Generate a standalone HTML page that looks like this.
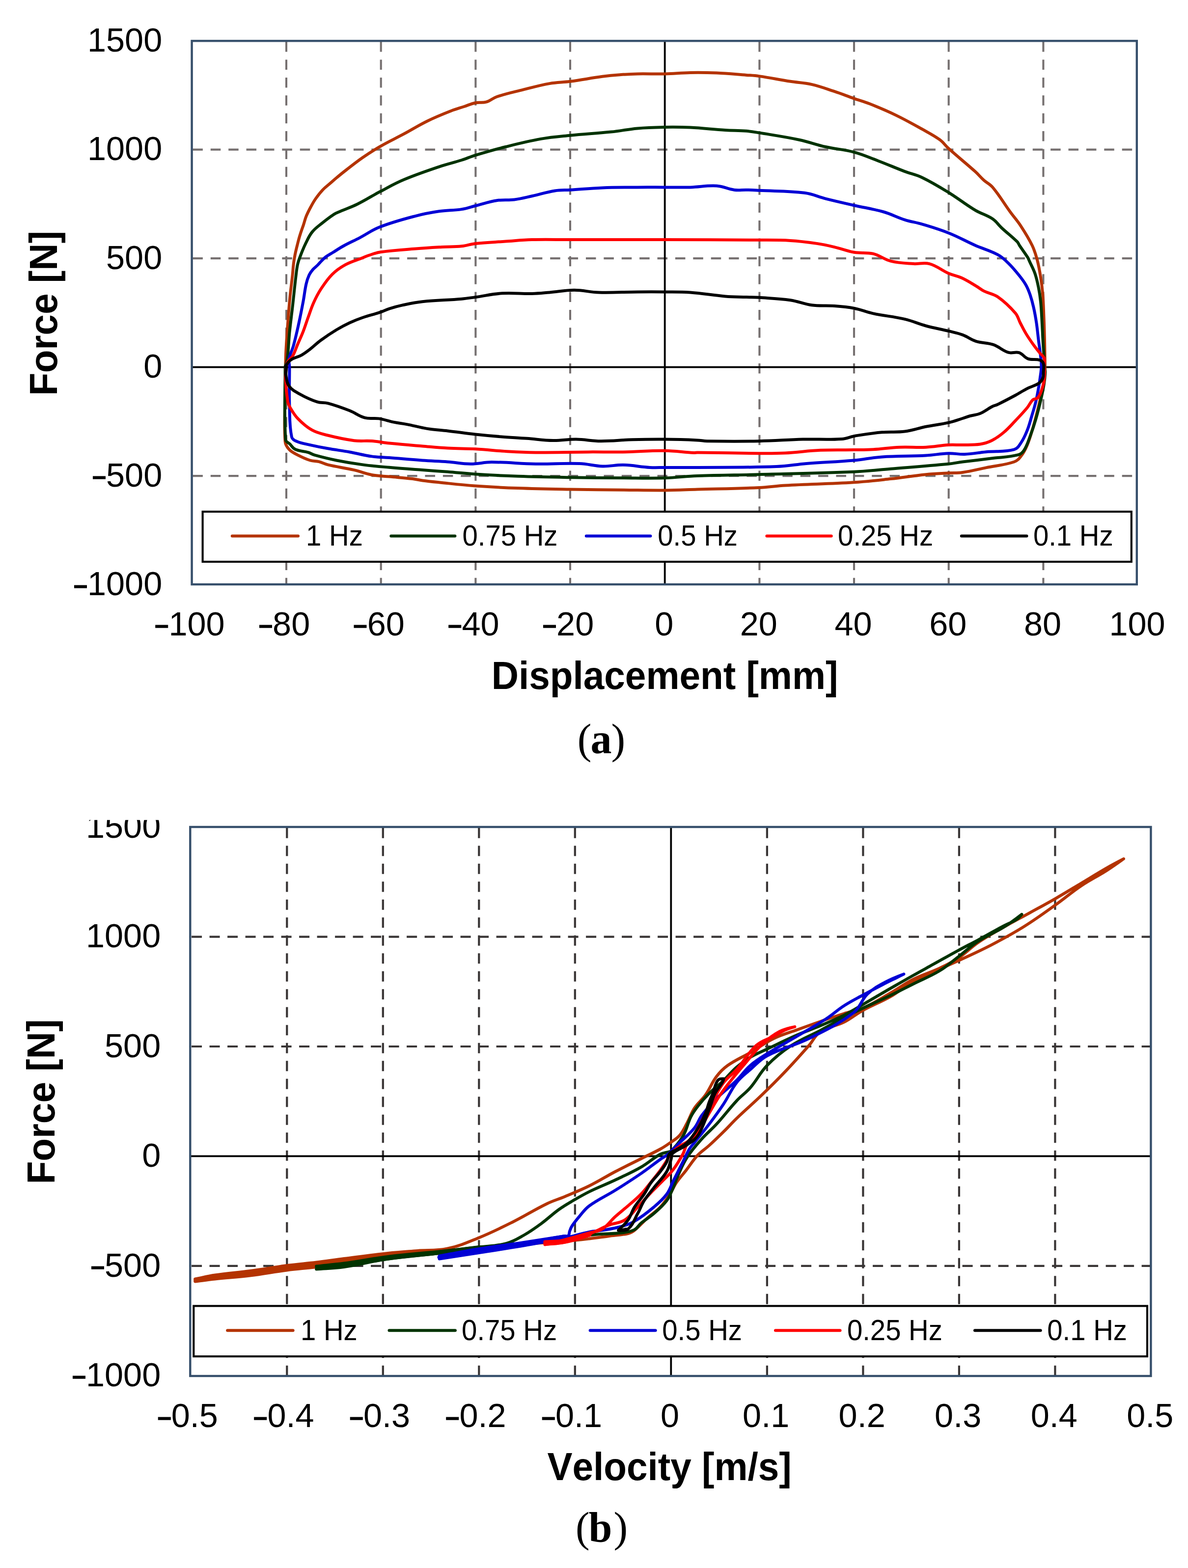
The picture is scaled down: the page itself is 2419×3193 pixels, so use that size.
<!DOCTYPE html>
<html><head><meta charset="utf-8"><title>Force charts</title>
<style>
html,body{margin:0;padding:0;background:#fff;}
body{width:2419px;height:3193px;overflow:hidden;position:relative;}
svg{position:absolute;left:0;top:0;display:block;}
text{font-kerning:none;font-feature-settings:"kern" 0;}
.t{font-family:"Liberation Sans",Arial,sans-serif;font-size:68.4px;fill:#000;}
.m{stroke:#000;stroke-width:1.6px;}
.lg{font-family:"Liberation Sans",Arial,sans-serif;font-size:56.3px;fill:#000;}
.ti{font-family:"Liberation Sans",Arial,sans-serif;font-size:76.5px;font-weight:bold;fill:#000;}
.cap{font-family:"Liberation Serif","Times New Roman",serif;font-size:86px;fill:#000;}
</style></head>
<body>
<svg width="2419" height="3193" viewBox="0 0 2419 3193">
<rect x="0" y="0" width="2419" height="3193" fill="#fff"/>
<line x1="583.0" y1="85.1" x2="583.0" y2="1190.0" stroke="#767070" stroke-width="4.1" stroke-dasharray="20.5 15.89"/>
<line x1="775.7" y1="85.1" x2="775.7" y2="1190.0" stroke="#767070" stroke-width="4.1" stroke-dasharray="20.5 15.89"/>
<line x1="968.4" y1="85.1" x2="968.4" y2="1190.0" stroke="#767070" stroke-width="4.1" stroke-dasharray="20.5 15.89"/>
<line x1="1161.0" y1="85.1" x2="1161.0" y2="1190.0" stroke="#767070" stroke-width="4.1" stroke-dasharray="20.5 15.89"/>
<line x1="1546.4" y1="85.1" x2="1546.4" y2="1190.0" stroke="#767070" stroke-width="4.1" stroke-dasharray="20.5 15.89"/>
<line x1="1739.0" y1="85.1" x2="1739.0" y2="1190.0" stroke="#767070" stroke-width="4.1" stroke-dasharray="20.5 15.89"/>
<line x1="1931.7" y1="85.1" x2="1931.7" y2="1190.0" stroke="#767070" stroke-width="4.1" stroke-dasharray="20.5 15.89"/>
<line x1="2124.4" y1="85.1" x2="2124.4" y2="1190.0" stroke="#767070" stroke-width="4.1" stroke-dasharray="20.5 15.89"/>
<line x1="392.4" y1="304.6" x2="2314.8" y2="304.6" stroke="#767070" stroke-width="4.1" stroke-dasharray="20.5 15.89"/>
<line x1="392.4" y1="526.1" x2="2314.8" y2="526.1" stroke="#767070" stroke-width="4.1" stroke-dasharray="20.5 15.89"/>
<line x1="392.4" y1="969.1" x2="2314.8" y2="969.1" stroke="#767070" stroke-width="4.1" stroke-dasharray="20.5 15.89"/>
<line x1="1353.7" y1="83.3" x2="1353.7" y2="1190.0" stroke="#000" stroke-width="3.8"/>
<line x1="390.6" y1="747.6" x2="2314.8" y2="747.6" stroke="#000" stroke-width="3.8"/>
<path d="M581.5,747.0C581.5,744.1 581.4,742.3 581.5,739.5C581.8,729.3 581.8,722.9 582.4,712.7C583.5,692.3 584.5,679.4 586.0,659.0C587.5,638.6 588.4,625.7 590.4,605.3C592.1,588.1 593.8,577.2 595.6,560.0C596.5,551.7 596.6,546.4 597.6,538.1C598.5,530.6 599.3,525.8 600.8,518.4C602.3,510.9 603.5,506.2 605.4,498.7C607.3,491.2 608.4,486.5 610.7,479.1C613.2,471.0 615.2,466.0 617.9,458.0C620.1,451.3 620.9,446.8 623.6,440.2C626.7,432.7 629.1,428.2 633.0,421.0C636.5,414.5 638.7,410.4 642.9,404.4C647.9,397.3 651.3,392.8 657.3,386.5C662.4,381.1 666.4,378.5 672.0,373.6C677.3,369.0 680.5,366.0 685.9,361.5C692.9,355.7 697.3,352.0 704.5,346.5C717.5,336.5 725.5,329.8 739.0,320.5C752.2,311.3 760.8,305.8 774.8,297.8C792.6,287.6 804.5,282.4 822.5,272.7C840.7,262.9 851.7,255.6 870.3,246.5C888.0,237.8 899.7,233.2 918.0,226.0C928.1,222.0 934.7,220.4 945.0,217.0C953.7,214.1 958.9,211.3 967.9,209.5C976.2,207.8 982.0,210.0 990.1,207.7C998.9,205.2 1002.9,199.9 1011.6,197.0C1031.6,190.3 1044.8,187.8 1065.3,182.7C1085.6,177.6 1098.4,173.7 1119.0,170.1C1134.8,167.3 1145.0,167.9 1160.9,165.8C1185.9,162.5 1201.4,159.2 1226.4,155.8C1240.0,154.0 1248.6,153.2 1262.2,152.2C1275.8,151.2 1284.4,150.7 1298.0,150.4C1319.4,150.0 1332.8,150.9 1354.2,150.4C1373.7,149.9 1385.9,148.2 1405.4,147.9C1425.8,147.5 1438.8,147.7 1459.2,148.6C1482.3,149.6 1496.9,151.2 1520.0,152.9C1529.8,153.6 1536.1,153.7 1545.8,155.1C1570.1,158.6 1585.3,162.0 1609.5,165.8C1625.8,168.4 1636.4,168.2 1652.5,171.9C1670.5,176.0 1681.5,180.4 1699.0,186.2C1714.4,191.3 1723.8,195.2 1739.1,200.6C1751.0,204.8 1758.9,206.6 1770.6,211.3C1791.3,219.5 1804.3,224.9 1824.3,234.6C1845.1,244.7 1857.8,251.9 1878.0,263.2C1891.8,271.0 1901.0,275.3 1913.8,284.7C1921.6,290.4 1924.5,296.2 1931.7,302.6C1951.8,320.7 1965.3,331.0 1985.4,349.1C1992.6,355.5 1996.2,360.6 2003.3,367.0C2009.8,372.8 2015.6,374.7 2021.2,381.4C2036.2,399.4 2043.2,412.6 2057.0,431.5C2065.0,442.5 2071.1,448.7 2078.5,460.1C2088.1,474.8 2094.1,484.2 2101.8,500.0C2106.8,510.4 2108.8,517.5 2111.8,528.6C2115.4,542.0 2116.8,550.7 2119.0,564.4C2121.2,577.9 2122.2,586.5 2123.3,600.2C2124.6,616.5 2124.7,626.9 2125.4,643.2C2126.1,659.5 2126.4,669.9 2126.8,686.2C2127.2,699.8 2127.3,708.4 2127.5,722.0C2127.7,731.5 2127.9,737.5 2127.8,747.0C2127.7,753.4 2127.9,757.5 2127.1,763.9C2125.8,775.3 2124.6,782.5 2122.3,793.7C2119.1,809.7 2116.6,819.7 2112.7,835.5C2109.3,849.2 2107.2,857.8 2103.2,871.3C2099.1,885.0 2096.8,893.9 2091.3,907.1C2087.7,915.7 2085.1,921.2 2079.3,928.5C2074.9,934.1 2071.7,938.3 2065.0,940.5C2043.9,947.5 2029.5,947.9 2007.7,952.4C1989.6,956.1 1978.3,959.4 1960.0,962.0C1949.2,963.5 1942.2,962.7 1931.3,963.3C1913.9,964.3 1902.8,964.5 1885.4,966.2C1858.1,968.9 1841.1,972.1 1813.8,975.1C1785.3,978.2 1767.3,980.5 1738.6,982.3C1685.6,985.6 1652.0,985.5 1599.0,988.4C1578.6,989.5 1565.8,992.1 1545.3,993.0C1497.7,995.2 1467.6,995.3 1420.0,996.6C1394.8,997.3 1379.0,998.2 1353.8,998.4C1321.8,998.6 1301.6,998.0 1269.6,997.7C1228.3,997.3 1202.1,997.3 1160.8,996.6C1120.5,995.9 1095.1,995.6 1054.8,994.1C1021.9,992.9 1001.1,991.9 968.2,989.5C939.8,987.4 922.0,985.2 893.7,982.3C880.9,981.0 872.8,980.2 860.0,978.5C852.4,977.5 847.7,975.9 840.0,975.0C822.1,972.9 810.7,972.3 792.7,970.6C779.1,969.3 770.3,969.5 756.9,967.0C743.0,964.4 734.8,960.4 721.1,957.2C700.8,952.5 687.7,951.2 667.4,946.4C660.4,944.7 656.5,941.9 649.5,940.2C642.8,938.5 638.1,939.6 631.6,937.5C621.0,934.1 614.6,930.9 604.7,925.8C598.2,922.4 593.5,920.6 588.6,915.1C584.0,910.0 581.1,905.8 580.6,899.0C578.0,861.5 580.4,837.6 580.6,800.0C580.7,779.9 581.2,767.1 581.5,747.0" fill="none" stroke="#B43300" stroke-width="6.0" stroke-linejoin="round" stroke-linecap="round"/>
<path d="M580.6,746.8C582.3,740.6 584.2,736.9 585.0,730.6C587.6,710.3 587.5,697.3 589.5,676.9C591.6,656.5 593.5,643.6 595.8,623.2C598.5,599.2 599.9,584.0 602.8,560.0C603.8,551.6 604.2,546.3 606.1,538.1C607.9,530.4 609.9,525.8 612.7,518.4C616.1,509.6 618.3,504.0 622.5,495.5C627.0,486.5 629.3,480.3 635.6,472.5C641.9,464.7 647.5,461.1 655.3,454.8C664.4,447.4 670.2,442.8 680.0,436.4C684.6,433.4 688.0,432.4 693.1,430.2C705.9,424.6 714.6,422.2 727.1,416.0C745.6,406.8 756.5,399.3 774.8,389.7C792.7,380.3 803.8,373.6 822.5,365.8C849.2,354.6 866.7,348.9 894.1,339.6C911.3,333.8 922.7,331.5 940.0,326.0C950.7,322.6 957.1,319.4 967.9,316.2C991.2,309.2 1005.9,304.9 1029.5,299.0C1056.6,292.2 1073.6,287.8 1101.1,282.9C1123.6,278.9 1138.1,278.0 1160.9,275.7C1192.5,272.5 1212.7,271.9 1244.3,268.6C1264.8,266.5 1277.5,263.2 1298.0,261.4C1319.3,259.5 1332.8,259.3 1354.2,258.9C1373.7,258.6 1386.0,258.6 1405.4,259.6C1432.7,261.0 1449.8,263.3 1477.0,265.0C1493.3,266.0 1503.7,265.5 1520.0,266.8C1529.9,267.6 1536.0,268.8 1545.8,270.4C1576.9,275.6 1596.6,278.2 1627.4,284.7C1648.1,289.1 1660.5,294.4 1681.1,299.0C1703.0,303.9 1717.4,304.0 1739.1,309.8C1758.4,315.0 1769.8,320.6 1788.5,327.7C1809.0,335.5 1821.7,341.3 1842.2,349.1C1855.7,354.2 1865.0,355.5 1878.0,361.7C1899.1,371.9 1911.7,379.8 1931.7,392.1C1952.6,405.0 1964.4,415.3 1985.4,427.9C1998.4,435.7 2008.5,437.4 2021.2,445.8C2029.2,451.1 2032.1,457.1 2039.2,463.7C2051.2,474.9 2059.7,480.9 2071.4,492.4C2073.8,494.8 2074.1,497.2 2076.0,500.0C2082.3,509.4 2086.8,515.0 2092.9,524.6C2094.4,527.0 2094.8,528.9 2096.0,531.5C2100.4,541.3 2104.0,547.1 2107.5,557.3C2111.1,567.9 2112.5,574.9 2114.7,585.9C2116.9,596.7 2117.9,603.6 2119.0,614.6C2120.6,630.9 2120.9,641.2 2121.8,657.5C2122.8,673.8 2123.0,684.2 2124.0,700.5C2124.7,711.4 2125.4,718.2 2126.1,729.1C2126.5,735.9 2126.5,740.2 2127.0,747.0C2127.3,751.2 2128.4,753.7 2128.3,757.9C2128.0,767.0 2127.3,772.8 2125.9,781.8C2124.1,793.2 2122.5,800.4 2119.9,811.6C2116.2,827.6 2113.8,837.7 2109.2,853.4C2105.2,867.2 2102.3,875.8 2097.2,889.2C2093.2,899.8 2091.4,907.1 2085.3,916.6C2082.2,921.5 2079.0,924.8 2073.4,926.2C2053.5,931.3 2040.1,930.7 2019.7,933.3C1997.0,936.2 1982.7,937.6 1960.0,940.5C1949.1,941.9 1942.3,943.6 1931.3,944.7C1886.7,949.0 1858.5,951.0 1813.8,954.7C1785.2,957.1 1767.2,959.6 1738.6,960.8C1665.2,963.9 1618.8,964.3 1545.3,966.2C1497.7,967.4 1467.6,967.2 1420.0,969.0C1394.8,969.9 1379.0,972.6 1353.8,973.3C1321.8,974.2 1301.6,973.5 1269.6,973.3C1228.3,973.1 1202.1,973.0 1160.8,972.3C1120.5,971.6 1095.1,971.2 1054.8,969.8C1021.9,968.6 1001.1,967.6 968.2,965.5C946.7,964.1 933.1,962.5 911.6,960.8C892.0,959.3 879.6,958.5 860.0,957.0C834.4,955.1 818.3,954.0 792.7,951.8C772.3,950.0 759.3,949.1 739.0,946.4C718.5,943.7 705.6,941.6 685.3,937.5C668.1,934.1 657.4,931.4 640.5,926.7C635.5,925.3 632.9,922.9 628.0,921.4C618.0,918.4 610.7,919.4 601.2,915.1C595.9,912.7 594.5,908.5 590.4,904.4C587.0,901.0 581.8,900.2 581.5,895.4C578.0,839.0 580.9,803.3 580.6,746.8" fill="none" stroke="#003300" stroke-width="6.0" stroke-linejoin="round" stroke-linecap="round"/>
<path d="M589.5,746.8C589.2,740.6 587.5,736.7 588.6,730.6C590.6,720.0 594.7,714.1 597.6,703.7C602.2,686.9 604.5,676.1 608.3,659.0C612.0,642.0 614.1,631.3 617.3,614.2C619.9,600.5 620.4,591.6 623.5,578.0C625.1,571.0 626.5,566.5 629.5,560.0C631.6,555.4 633.7,552.8 637.0,549.0C640.2,545.2 643.1,543.5 646.6,540.0C649.5,537.1 651.1,534.9 654.0,532.0C657.5,528.5 659.5,526.0 663.5,523.0C668.4,519.3 672.0,517.7 677.2,514.5C685.9,509.2 691.1,505.4 700.0,500.5C712.0,493.9 720.1,490.6 732.2,484.3C747.9,476.1 756.8,468.7 773.3,462.3C800.4,451.7 818.3,447.2 846.4,439.8C864.3,435.1 875.8,433.0 894.1,430.3C911.4,427.8 922.7,428.8 940.0,426.1C950.8,424.4 957.3,421.7 967.9,419.0C984.5,414.9 994.7,410.9 1011.6,408.2C1025.1,406.1 1033.9,408.1 1047.4,406.4C1061.2,404.7 1069.6,402.2 1083.2,399.3C1101.0,395.4 1111.9,391.4 1129.8,388.5C1141.5,386.6 1149.1,387.4 1160.9,386.7C1185.8,385.1 1201.5,383.4 1226.4,382.4C1253.6,381.3 1270.8,381.6 1298.0,381.4C1319.4,381.2 1332.8,381.4 1354.2,381.4C1373.7,381.4 1386.0,381.9 1405.4,381.4C1425.9,380.8 1438.8,377.3 1459.2,378.5C1473.1,379.3 1481.2,384.8 1495.0,386.7C1504.4,388.0 1510.5,386.5 1520.0,386.7C1529.8,386.9 1536.0,387.3 1545.8,387.8C1580.9,389.6 1603.3,388.5 1638.2,392.8C1655.0,394.9 1664.7,400.5 1681.1,404.6C1703.1,410.1 1717.0,413.2 1739.1,418.2C1761.9,423.4 1776.8,425.1 1799.3,431.5C1816.0,436.3 1825.6,442.3 1842.2,447.6C1855.6,451.9 1864.6,452.6 1878.0,456.6C1898.6,462.8 1911.7,466.5 1931.7,474.5C1952.6,482.8 1964.8,490.4 1985.4,499.5C2002.8,507.2 2014.9,509.6 2031.6,518.6C2040.8,523.5 2045.6,528.5 2053.1,535.8C2062.0,544.4 2066.9,550.5 2074.6,560.1C2080.5,567.4 2084.3,572.1 2088.9,580.2C2093.0,587.4 2094.8,592.4 2097.5,600.2C2100.8,609.8 2102.4,616.1 2104.6,626.0C2107.3,637.9 2108.6,645.5 2110.4,657.5C2112.4,671.1 2113.0,679.7 2114.7,693.3C2116.3,705.8 2117.7,713.7 2119.0,726.3C2119.8,734.1 2120.7,739.1 2120.4,747.0C2120.1,756.6 2118.7,762.6 2117.5,772.1C2116.7,778.0 2116.2,781.8 2115.1,787.7C2113.0,799.1 2111.9,806.3 2109.2,817.6C2106.5,829.0 2104.2,836.1 2100.8,847.4C2097.4,858.8 2095.7,866.2 2091.3,877.2C2087.5,886.6 2085.1,892.7 2079.3,901.1C2074.9,907.4 2072.4,913.4 2065.0,915.4C2043.9,921.0 2029.5,918.1 2007.7,920.2C1991.1,921.8 1980.8,924.3 1964.2,925.0C1951.7,925.5 1943.8,922.8 1931.3,923.2C1913.8,923.8 1902.9,926.6 1885.4,927.5C1851.4,929.3 1829.8,928.1 1795.9,930.4C1774.0,931.9 1760.5,935.6 1738.6,937.5C1702.0,940.7 1678.7,941.1 1642.0,944.0C1618.8,945.9 1604.3,949.3 1581.1,950.1C1519.9,952.3 1481.2,951.4 1420.0,951.9C1394.8,952.1 1379.0,951.9 1353.8,951.9C1342.2,951.9 1334.9,952.6 1323.4,951.9C1302.9,950.7 1290.1,947.3 1269.6,946.8C1253.3,946.4 1243.0,949.9 1226.7,949.4C1208.9,948.8 1197.9,944.6 1180.1,944.0C1146.1,942.8 1124.6,945.3 1090.6,944.7C1056.6,944.1 1035.1,941.1 1001.1,941.1C984.7,941.1 974.6,944.8 958.2,944.7C940.4,944.6 929.3,941.7 911.6,940.4C892.0,939.0 879.6,938.9 860.0,937.5C834.4,935.7 818.3,934.1 792.7,932.1C779.1,931.0 770.4,931.3 756.9,929.4C739.7,926.9 729.2,923.6 712.1,920.5C695.2,917.5 684.3,916.3 667.4,913.3C653.7,910.9 645.1,909.2 631.6,906.1C621.3,903.7 614.4,903.2 604.7,899.0C599.8,896.9 595.1,895.2 594.0,890.0C589.0,866.7 590.2,851.2 589.5,827.4C588.5,796.8 589.5,777.4 589.5,746.8" fill="none" stroke="#0000D5" stroke-width="6.0" stroke-linejoin="round" stroke-linecap="round"/>
<path d="M583.0,747.0C583.8,743.5 583.2,740.8 585.0,737.7C588.2,732.3 592.7,730.6 595.8,725.2C600.9,716.2 602.4,709.7 606.5,700.2C610.6,690.7 613.5,684.8 617.3,675.1C621.7,663.7 623.8,656.2 628.0,644.7C632.0,633.7 634.0,626.6 638.8,616.0C643.6,605.5 646.8,598.9 653.1,589.2C661.1,577.0 666.0,569.1 676.3,558.8C685.3,549.8 692.1,545.2 703.2,539.1C716.1,532.1 725.4,530.2 739.0,524.7C743.5,522.9 746.3,521.5 750.9,520.0C759.9,517.1 765.5,514.6 774.8,513.3C801.9,509.5 819.2,508.8 846.4,506.6C866.7,504.9 879.6,504.2 900.0,503.0C915.2,502.1 924.9,502.9 940.0,501.3C950.7,500.2 957.2,497.1 967.9,495.9C991.2,493.4 1006.1,493.2 1029.5,491.6C1049.9,490.2 1062.8,488.6 1083.2,488.1C1112.7,487.3 1131.4,488.1 1160.9,488.1C1213.0,488.1 1245.9,488.1 1298.0,488.1C1319.4,488.1 1332.8,488.0 1354.2,488.1C1424.8,488.3 1469.4,488.3 1540.0,488.8C1566.4,489.0 1583.1,488.4 1609.5,489.9C1630.0,491.1 1642.9,492.9 1663.2,495.9C1676.9,497.9 1685.5,499.9 1699.0,503.1C1714.4,506.7 1723.6,511.1 1739.1,513.8C1753.6,516.3 1763.5,513.3 1777.8,516.7C1792.1,520.1 1799.3,528.2 1813.6,531.7C1830.9,536.0 1842.4,535.9 1860.1,537.1C1872.3,537.9 1880.6,533.8 1892.4,537.1C1908.5,541.5 1916.4,550.1 1931.7,556.8C1941.4,561.0 1948.4,561.4 1958.0,565.8C1970.1,571.4 1977.1,576.3 1988.6,583.1C1994.3,586.5 1997.3,589.6 2003.3,592.6C2013.7,597.8 2022.0,597.8 2031.6,604.5C2046.8,615.1 2055.3,623.5 2067.4,637.5C2073.0,643.9 2073.5,650.0 2077.4,657.5C2081.7,665.7 2084.1,671.1 2088.9,679.0C2093.9,687.4 2097.5,692.5 2103.2,700.5C2108.4,707.8 2111.9,712.1 2117.5,719.1C2120.6,723.0 2124.6,724.3 2126.1,729.1C2128.1,735.6 2125.8,740.2 2126.1,747.0C2126.2,748.9 2127.1,750.0 2127.1,751.9C2127.0,761.0 2127.3,766.8 2125.9,775.8C2124.6,784.2 2122.9,789.4 2119.9,797.3C2117.9,802.6 2116.7,806.4 2112.7,810.4C2110.0,813.1 2106.0,811.3 2103.2,814.0C2097.5,819.4 2096.3,824.7 2091.3,830.7C2082.7,841.0 2076.7,847.1 2067.4,856.9C2058.5,866.2 2053.3,872.5 2043.5,880.8C2035.1,887.8 2029.5,892.1 2019.7,897.0C2011.2,901.2 2005.2,903.1 1995.8,904.5C1982.3,906.5 1973.6,905.7 1960.0,906.0C1949.1,906.3 1942.2,905.3 1931.3,906.0C1913.8,907.1 1902.9,909.9 1885.4,910.7C1865.0,911.7 1852.1,909.8 1831.7,910.7C1811.2,911.6 1798.4,914.1 1778.0,915.3C1763.1,916.2 1753.6,915.9 1738.6,916.1C1712.8,916.5 1696.4,915.6 1670.6,916.8C1643.3,918.0 1626.3,921.1 1599.0,922.5C1578.6,923.5 1565.7,923.3 1545.3,923.2C1497.7,922.9 1467.6,921.8 1420.0,921.4C1417.3,921.4 1415.6,922.2 1412.9,922.1C1390.4,920.9 1376.3,918.1 1353.8,917.8C1321.8,917.4 1301.6,919.9 1269.6,920.4C1242.4,920.9 1225.2,920.2 1198.0,920.4C1157.2,920.6 1131.4,921.6 1090.6,921.4C1070.2,921.3 1057.3,920.8 1036.9,919.6C1010.8,918.1 994.3,915.8 968.2,914.3C946.7,913.1 933.1,913.7 911.6,912.5C892.0,911.4 879.6,910.1 860.0,908.5C834.4,906.4 818.2,905.2 792.7,902.6C779.1,901.2 770.6,899.1 756.9,898.1C743.3,897.1 734.6,898.9 721.1,897.2C700.5,894.5 687.6,891.6 667.4,886.5C654.9,883.4 646.5,882.0 635.2,875.7C622.9,868.8 616.2,862.5 606.5,852.4C599.1,844.7 595.9,838.4 590.4,829.2C588.1,825.4 586.7,822.8 586.0,818.4C583.3,801.5 582.2,790.8 581.5,773.7C581.1,763.5 582.4,757.1 583.0,747.0" fill="none" stroke="#FF0000" stroke-width="6.0" stroke-linejoin="round" stroke-linecap="round"/>
<path d="M581.5,746.7C583.5,743.3 584.2,740.7 586.8,737.7C589.7,734.4 592.0,732.6 595.8,730.6C602.3,727.2 607.3,726.9 613.7,723.4C621.0,719.4 625.0,716.0 631.6,710.9C640.0,704.4 644.5,699.3 653.1,693.0C665.0,684.3 672.7,679.1 685.3,671.5C695.2,665.5 701.6,662.1 712.1,657.2C722.1,652.6 728.6,650.1 739.0,646.5C752.4,641.9 761.3,640.2 774.8,635.7C781.7,633.4 785.7,630.8 792.7,628.6C802.7,625.4 809.2,623.6 819.5,621.4C834.8,618.1 844.5,615.8 860.0,614.2C890.3,611.0 909.6,611.3 940.0,608.7C950.7,607.8 957.3,606.6 967.9,605.1C988.6,602.2 1001.5,598.6 1022.3,597.3C1045.4,595.9 1060.1,598.4 1083.2,598.0C1096.8,597.7 1105.4,596.6 1119.0,595.5C1138.1,593.9 1150.0,590.8 1169.1,590.8C1188.3,590.8 1200.1,595.0 1219.3,595.5C1249.2,596.3 1268.1,594.6 1298.0,594.4C1319.4,594.2 1332.8,594.2 1354.2,594.4C1373.7,594.6 1386.0,594.1 1405.4,595.5C1432.7,597.5 1449.7,601.1 1477.0,603.4C1493.3,604.8 1503.7,604.5 1520.0,605.1C1529.8,605.4 1536.0,605.1 1545.8,605.8C1570.0,607.5 1585.5,607.7 1609.5,611.2C1626.1,613.6 1635.9,619.1 1652.5,621.3C1670.0,623.6 1681.4,621.7 1699.0,623.0C1714.3,624.1 1724.0,624.8 1739.1,627.7C1754.1,630.6 1762.9,635.2 1777.8,638.4C1802.1,643.6 1818.0,644.2 1842.2,649.9C1858.9,653.8 1868.7,659.0 1885.2,663.5C1902.7,668.3 1914.1,669.9 1931.7,674.2C1942.5,676.9 1949.6,678.0 1960.0,681.9C1970.7,685.9 1976.2,691.3 1987.0,694.8C2000.2,699.0 2009.7,697.4 2022.8,701.9C2035.1,706.2 2040.7,713.8 2053.1,717.7C2061.0,720.2 2067.1,715.7 2075.0,718.2C2083.0,720.8 2085.3,727.8 2093.2,730.6C2102.0,733.7 2108.6,730.6 2117.5,733.4C2121.2,734.6 2123.6,736.9 2124.7,740.6C2126.5,746.9 2125.0,751.3 2124.7,757.8C2124.5,762.4 2125.3,765.6 2123.5,769.8C2121.5,774.6 2119.4,777.7 2115.1,780.6C2106.9,786.1 2100.1,786.8 2091.3,791.3C2082.0,796.1 2076.6,800.0 2067.4,805.0C2053.9,812.3 2045.4,816.8 2031.6,823.5C2027.3,825.6 2024.2,825.8 2020.0,828.0C2010.6,832.9 2005.6,837.9 1995.8,842.0C1988.3,845.2 1982.8,844.8 1975.0,847.0C1969.2,848.6 1965.7,850.2 1960.0,852.0C1949.1,855.4 1942.4,858.1 1931.3,860.6C1914.0,864.5 1902.8,865.3 1885.4,868.8C1869.0,872.1 1859.1,876.4 1842.5,878.5C1824.9,880.8 1813.6,878.7 1795.9,880.3C1775.4,882.1 1762.5,884.0 1742.2,887.4C1731.2,889.2 1724.7,893.2 1713.6,893.9C1683.7,895.9 1664.7,893.8 1634.8,894.6C1600.8,895.5 1579.3,897.6 1545.3,898.2C1505.3,898.9 1480.0,898.8 1440.0,898.2C1432.4,898.1 1427.6,896.7 1420.0,896.4C1394.9,895.3 1379.0,894.8 1353.8,894.6C1328.6,894.4 1312.7,894.6 1287.5,895.3C1263.0,896.0 1247.6,898.3 1223.1,898.2C1204.0,898.1 1192.1,894.8 1173.0,894.6C1155.3,894.4 1144.1,897.4 1126.4,897.1C1105.9,896.7 1093.1,894.3 1072.7,892.8C1052.3,891.3 1039.4,890.8 1019.0,889.2C999.7,887.7 987.5,886.6 968.2,884.5C946.7,882.1 933.1,879.9 911.6,877.4C898.0,875.8 889.4,875.5 875.8,873.8C869.7,873.0 866.0,872.2 860.0,871.0C848.0,868.5 840.5,866.4 828.5,864.1C818.3,862.1 811.8,861.7 801.6,859.6C790.0,857.2 782.9,854.2 771.2,852.4C760.4,850.8 753.1,853.6 742.6,850.7C730.2,847.3 724.0,841.0 712.1,836.3C695.4,829.7 684.7,825.8 667.4,821.1C659.5,819.0 653.7,821.0 645.9,818.4C631.7,813.7 623.1,809.6 610.1,802.3C601.2,797.3 594.7,794.4 588.6,786.2C583.6,779.4 583.5,773.1 582.4,764.7C581.5,758.0 583.0,753.7 583.3,747.0" fill="none" stroke="#000000" stroke-width="6.0" stroke-linejoin="round" stroke-linecap="round"/>
<rect x="412.6" y="1041.9" width="1891.2" height="102.0" fill="#fff" stroke="#000" stroke-width="4.1"/>
<line x1="472.8" y1="1091.6" x2="607.0" y2="1091.6" stroke="#B43300" stroke-width="6" stroke-linecap="round"/>
<text transform="translate(623.1,1110.5) scale(1,1.04)" class="lg">1 Hz</text>
<line x1="796.3" y1="1091.6" x2="926.4" y2="1091.6" stroke="#003300" stroke-width="6" stroke-linecap="round"/>
<text transform="translate(941.5,1110.5) scale(1,1.04)" class="lg">0.75 Hz</text>
<line x1="1193.8" y1="1091.6" x2="1324.4" y2="1091.6" stroke="#0000D5" stroke-width="6" stroke-linecap="round"/>
<text transform="translate(1339.3,1110.5) scale(1,1.04)" class="lg">0.5 Hz</text>
<line x1="1561.4" y1="1091.6" x2="1692.7" y2="1091.6" stroke="#FF0000" stroke-width="6" stroke-linecap="round"/>
<text transform="translate(1706.1,1110.5) scale(1,1.04)" class="lg">0.25 Hz</text>
<line x1="1957.8" y1="1091.6" x2="2090.5" y2="1091.6" stroke="#000000" stroke-width="6" stroke-linecap="round"/>
<text transform="translate(2103.9,1110.5) scale(1,1.04)" class="lg">0.1 Hz</text>
<rect x="390.6" y="83.3" width="1924.2" height="1106.7" fill="none" stroke="#364F6B" stroke-width="4.4"/>
<text x="316.8" y="1293.2" class="t m" textLength="25.0" lengthAdjust="spacingAndGlyphs">&#8211;</text><text x="343.4" y="1294.0" class="t">100</text>
<text x="528.5" y="1293.2" class="t m" textLength="25.0" lengthAdjust="spacingAndGlyphs">&#8211;</text><text x="555.1" y="1294.0" class="t">80</text>
<text x="721.1" y="1293.2" class="t m" textLength="25.0" lengthAdjust="spacingAndGlyphs">&#8211;</text><text x="747.7" y="1294.0" class="t">60</text>
<text x="913.8" y="1293.2" class="t m" textLength="25.0" lengthAdjust="spacingAndGlyphs">&#8211;</text><text x="940.4" y="1294.0" class="t">40</text>
<text x="1106.5" y="1293.2" class="t m" textLength="25.0" lengthAdjust="spacingAndGlyphs">&#8211;</text><text x="1133.1" y="1294.0" class="t">20</text>
<text x="1333.2" y="1294.0" class="t">0</text>
<text x="1506.8" y="1294.0" class="t">20</text>
<text x="1699.5" y="1294.0" class="t">40</text>
<text x="1892.2" y="1294.0" class="t">60</text>
<text x="2084.9" y="1294.0" class="t">80</text>
<text x="2258.5" y="1294.0" class="t">100</text>
<text x="330.2" y="104.9" class="t" text-anchor="end">1500</text>
<text x="330.2" y="326.4" class="t" text-anchor="end">1000</text>
<text x="330.2" y="547.9" class="t" text-anchor="end">500</text>
<text x="330.2" y="769.4" class="t" text-anchor="end">0</text>
<text x="330.2" y="990.9" class="t" text-anchor="end">500</text><text x="189.5" y="990.1" class="t m" textLength="25.0" lengthAdjust="spacingAndGlyphs">&#8211;</text>
<text x="330.2" y="1212.4" class="t" text-anchor="end">1000</text><text x="151.4" y="1211.6" class="t m" textLength="25.0" lengthAdjust="spacingAndGlyphs">&#8211;</text>
<text transform="translate(1000.8,1402.6) scale(1,1.04)" class="ti">Displacement [mm]</text>
<text transform="translate(116.4,638.0) rotate(-90) scale(1,1.04)" class="ti" text-anchor="middle">Force [N]</text>
<text y="1533.5" class="cap"><tspan x="1175.8">(</tspan><tspan x="1202.4" font-weight="bold">a</tspan><tspan x="1244.5">)</tspan></text>
<line x1="584.3" y1="1685.8" x2="584.3" y2="2802.0" stroke="#393535" stroke-width="4.2" stroke-dasharray="21 15.5"/>
<line x1="779.8" y1="1685.8" x2="779.8" y2="2802.0" stroke="#393535" stroke-width="4.2" stroke-dasharray="21 15.5"/>
<line x1="975.3" y1="1685.8" x2="975.3" y2="2802.0" stroke="#393535" stroke-width="4.2" stroke-dasharray="21 15.5"/>
<line x1="1170.8" y1="1685.8" x2="1170.8" y2="2802.0" stroke="#393535" stroke-width="4.2" stroke-dasharray="21 15.5"/>
<line x1="1561.9" y1="1685.8" x2="1561.9" y2="2802.0" stroke="#393535" stroke-width="4.2" stroke-dasharray="21 15.5"/>
<line x1="1757.4" y1="1685.8" x2="1757.4" y2="2802.0" stroke="#393535" stroke-width="4.2" stroke-dasharray="21 15.5"/>
<line x1="1952.9" y1="1685.8" x2="1952.9" y2="2802.0" stroke="#393535" stroke-width="4.2" stroke-dasharray="21 15.5"/>
<line x1="2148.4" y1="1685.8" x2="2148.4" y2="2802.0" stroke="#393535" stroke-width="4.2" stroke-dasharray="21 15.5"/>
<line x1="390.1" y1="1907.6" x2="2343.4" y2="1907.6" stroke="#393535" stroke-width="4.2" stroke-dasharray="21 15.5"/>
<line x1="390.1" y1="2131.0" x2="2343.4" y2="2131.0" stroke="#393535" stroke-width="4.2" stroke-dasharray="21 15.5"/>
<line x1="390.1" y1="2577.8" x2="2343.4" y2="2577.8" stroke="#393535" stroke-width="4.2" stroke-dasharray="21 15.5"/>
<line x1="1366.3" y1="1684.0" x2="1366.3" y2="2802.0" stroke="#000" stroke-width="3.8"/>
<line x1="387.3" y1="2354.4" x2="2343.4" y2="2354.4" stroke="#000" stroke-width="3.8"/>
<path d="M397.2,2604.5C412.6,2601.5 422.2,2598.8 437.7,2596.5C464.8,2592.5 482.1,2591.6 509.3,2588.0C537.9,2584.2 555.9,2580.7 584.5,2577.0C607.1,2574.1 621.5,2573.2 644.2,2570.5C665.6,2567.9 679.0,2565.7 700.3,2563.0C734.4,2558.7 755.9,2555.6 790.0,2552.0C812.7,2549.6 827.2,2548.8 850.0,2547.0C873.3,2545.2 888.5,2547.4 911.3,2542.5C936.6,2537.1 951.7,2529.9 975.7,2520.2C1001.6,2509.7 1017.5,2501.7 1042.5,2489.2C1070.1,2475.4 1086.4,2464.5 1114.1,2451.0C1127.3,2444.6 1136.5,2442.4 1150.0,2436.7C1169.1,2428.6 1181.4,2424.0 1200.0,2414.8C1220.4,2404.7 1232.4,2396.6 1252.5,2386.0C1272.3,2375.6 1285.0,2369.7 1305.0,2359.7C1320.0,2352.2 1329.7,2348.1 1344.4,2340.0C1352.6,2335.5 1357.5,2332.0 1365.2,2326.6C1372.7,2321.3 1378.3,2318.7 1384.2,2311.7C1391.4,2303.1 1393.9,2296.2 1399.2,2286.3C1405.2,2275.2 1407.1,2267.1 1414.1,2256.5C1421.4,2245.4 1428.9,2240.6 1436.5,2229.7C1445.9,2216.2 1448.9,2205.6 1458.8,2192.4C1466.0,2182.8 1471.4,2177.0 1481.2,2170.0C1497.8,2158.2 1510.1,2153.7 1527.7,2143.4C1546.0,2132.7 1556.5,2124.1 1575.5,2114.8C1592.9,2106.3 1605.0,2103.6 1623.2,2097.0C1641.3,2090.4 1652.7,2086.3 1670.9,2080.0C1689.0,2073.7 1700.4,2069.7 1718.7,2064.0C1733.1,2059.5 1743.0,2059.1 1756.8,2053.0C1779.5,2042.9 1792.6,2034.0 1814.1,2021.7C1831.8,2011.6 1841.8,2003.2 1860.0,1994.0C1879.3,1984.2 1892.9,1981.2 1912.5,1972.0C1927.7,1964.8 1937.4,1960.3 1951.4,1951.0C1967.5,1940.3 1975.3,1930.4 1991.3,1919.5C2010.5,1906.4 2023.6,1899.6 2043.8,1888.0C2063.5,1876.6 2076.4,1870.1 2096.3,1859.1C2116.1,1848.2 2128.7,1841.5 2148.3,1830.3C2168.6,1818.6 2181.2,1810.8 2201.3,1798.8C2221.3,1786.9 2233.6,1778.9 2253.8,1767.3C2266.6,1759.9 2288.0,1748.9 2288.0,1748.9C2288.0,1748.9 2267.1,1764.0 2253.8,1772.5C2234.2,1785.0 2220.6,1791.0 2201.3,1804.0C2180.5,1818.0 2168.8,1828.9 2148.3,1843.4C2123.9,1860.8 2108.7,1872.2 2083.2,1888.0C2058.9,1903.1 2042.9,1911.6 2017.5,1924.8C1992.8,1937.6 1976.6,1944.5 1951.4,1956.3C1916.8,1972.5 1893.8,1980.4 1860.0,1998.3C1841.5,2008.1 1832.3,2018.5 1814.1,2028.9C1793.0,2041.0 1778.1,2045.8 1756.8,2057.5C1741.8,2065.7 1734.0,2073.7 1718.7,2081.4C1701.2,2090.2 1687.2,2089.7 1670.9,2100.5C1659.1,2108.3 1656.5,2118.5 1647.1,2129.1C1629.2,2149.3 1617.9,2162.1 1599.3,2181.6C1581.6,2200.2 1570.1,2211.6 1551.6,2229.4C1532.3,2248.0 1519.3,2258.9 1500.0,2277.4C1489.7,2287.3 1483.9,2294.2 1473.7,2304.2C1462.5,2315.2 1455.5,2322.1 1443.9,2332.6C1435.1,2340.7 1428.1,2344.3 1420.0,2353.1C1410.2,2363.7 1405.8,2371.9 1396.9,2383.3C1389.5,2392.9 1384.0,2398.3 1377.2,2408.3C1371.5,2416.8 1369.7,2423.3 1364.1,2431.9C1357.2,2442.3 1353.0,2449.1 1344.4,2458.1C1335.4,2467.6 1327.9,2471.7 1318.1,2480.5C1307.9,2489.7 1302.6,2496.8 1291.9,2505.4C1287.6,2508.9 1284.2,2510.8 1278.8,2512.0C1264.1,2515.3 1254.4,2515.2 1239.4,2517.2C1224.4,2519.2 1215.0,2520.7 1200.0,2522.5C1181.0,2524.7 1169.0,2526.1 1150.0,2527.7C1127.2,2529.7 1112.8,2530.1 1090.0,2532.0C1046.5,2535.6 1019.1,2537.6 975.7,2542.0C946.6,2545.0 928.4,2548.5 899.3,2551.5C857.8,2555.7 831.5,2556.7 790.0,2561.0C755.8,2564.5 734.4,2567.6 700.3,2572.0C678.9,2574.8 665.6,2577.3 644.2,2580.0C621.6,2582.8 607.1,2583.6 584.5,2586.5C555.9,2590.2 538.0,2594.0 509.3,2597.5C482.2,2600.8 464.9,2601.6 437.7,2604.5C422.3,2606.2 412.6,2607.6 397.2,2609.5" fill="none" stroke="#B43300" stroke-width="6.0" stroke-linejoin="round" stroke-linecap="round"/>
<path d="M399.0,2607.0C413.7,2604.5 422.9,2602.2 437.7,2600.3C464.8,2596.8 482.2,2596.1 509.3,2592.7C538.0,2589.1 555.9,2585.4 584.5,2581.7C607.1,2578.8 621.5,2578.0 644.2,2575.2C665.6,2572.6 679.0,2570.2 700.3,2567.5C734.4,2563.1 755.9,2560.5 790.0,2556.5C812.8,2553.8 827.2,2552.5 850.0,2550.0" fill="none" stroke="#B43300" stroke-width="9.5" stroke-linejoin="round" stroke-linecap="round"/>
<path d="M644.2,2578.5C665.5,2576.2 679.0,2575.3 700.3,2572.5C734.5,2567.9 755.8,2563.2 790.0,2559.0C831.4,2553.9 857.8,2552.4 899.3,2548.0C928.4,2544.9 946.7,2543.0 975.7,2539.5C996.6,2537.0 1010.3,2537.6 1030.6,2532.2C1045.1,2528.4 1053.3,2522.9 1066.4,2515.5C1080.6,2507.4 1089.0,2501.3 1102.2,2491.6C1116.2,2481.3 1123.9,2473.2 1138.0,2463.0C1147.8,2455.9 1154.5,2452.1 1165.0,2446.0C1178.1,2438.3 1186.4,2433.3 1200.0,2426.6C1219.6,2417.0 1232.7,2412.4 1252.5,2403.0C1272.6,2393.4 1285.6,2387.9 1305.0,2376.8C1320.6,2367.9 1328.6,2359.1 1344.4,2350.5C1350.8,2347.0 1355.9,2347.5 1362.8,2345.3C1364.9,2344.6 1366.6,2344.6 1368.0,2343.0C1377.7,2331.7 1384.4,2324.7 1391.7,2311.7C1399.2,2298.4 1399.8,2288.1 1406.6,2274.4C1411.2,2265.3 1415.2,2260.1 1421.5,2252.0C1429.4,2241.9 1434.8,2235.8 1443.9,2226.7C1454.7,2215.9 1462.7,2210.3 1473.7,2199.8C1484.0,2189.9 1489.2,2182.3 1500.0,2173.0C1509.8,2164.5 1516.5,2159.6 1527.7,2153.0C1540.1,2145.6 1548.8,2142.5 1561.9,2136.3C1585.1,2125.3 1599.6,2117.9 1623.2,2107.6C1641.1,2099.8 1652.9,2096.1 1670.9,2088.5C1689.2,2080.7 1700.9,2076.0 1718.7,2067.1C1733.6,2059.7 1742.4,2053.9 1756.8,2045.6C1778.6,2033.0 1792.3,2024.8 1814.1,2012.2C1831.5,2002.2 1842.5,1995.8 1860.0,1986.0C1874.9,1977.6 1884.4,1972.5 1899.4,1964.2C1919.2,1953.2 1931.5,1946.1 1951.4,1935.3C1966.5,1927.1 1976.2,1922.4 1991.3,1914.3C2011.3,1903.5 2023.7,1896.1 2043.8,1885.4C2053.6,1880.2 2060.6,1878.3 2070.0,1872.3C2074.7,1869.2 2080.5,1861.8 2080.5,1861.8C2080.5,1861.8 2058.4,1879.0 2043.8,1888.0C2024.4,1900.0 2010.4,1904.4 1991.3,1916.9C1975.1,1927.5 1966.7,1936.6 1951.4,1948.4C1936.8,1959.6 1928.3,1967.8 1912.5,1977.3C1893.4,1988.8 1879.9,1993.5 1860.0,2003.5C1842.6,2012.2 1831.7,2018.0 1814.1,2026.5C1785.2,2040.4 1766.4,2048.0 1737.8,2062.3C1712.0,2075.2 1696.4,2084.6 1670.9,2098.1C1648.3,2110.0 1632.6,2115.1 1611.3,2129.1C1591.0,2142.4 1578.8,2152.3 1561.9,2169.7C1546.9,2185.2 1541.8,2198.7 1527.7,2215.0C1518.2,2226.1 1509.9,2230.9 1500.0,2241.6C1483.7,2259.2 1475.0,2271.6 1458.8,2289.3C1448.0,2301.1 1439.6,2307.2 1429.0,2319.2C1417.0,2332.8 1409.1,2341.3 1399.2,2356.5C1390.8,2369.3 1387.5,2378.6 1381.1,2392.5C1376.6,2402.3 1375.0,2409.0 1370.6,2418.8C1366.0,2429.0 1364.2,2436.1 1357.5,2445.0C1349.0,2456.3 1341.9,2462.0 1331.3,2471.3C1321.9,2479.5 1314.6,2483.0 1305.0,2491.0C1299.6,2495.5 1298.2,2501.0 1291.9,2504.1C1282.7,2508.7 1275.8,2509.3 1265.6,2510.6C1248.3,2512.8 1237.1,2511.7 1219.7,2513.3C1193.2,2515.7 1176.5,2517.8 1150.0,2521.0C1104.4,2526.5 1075.6,2530.6 1030.0,2536.0C1009.4,2538.4 996.3,2539.1 975.7,2541.5C946.6,2544.9 928.4,2548.1 899.3,2551.5C857.8,2556.4 831.4,2557.6 790.0,2563.5C755.7,2568.4 734.6,2575.1 700.3,2580.0C679.1,2583.0 665.5,2582.8 644.2,2584.5" fill="none" stroke="#003300" stroke-width="6.0" stroke-linejoin="round" stroke-linecap="round"/>
<path d="M646.0,2581.5C666.6,2579.5 679.8,2579.0 700.3,2576.2C734.5,2571.6 755.8,2566.7 790.0,2562.2C831.4,2556.7 857.8,2554.9 899.3,2550.0C928.4,2546.6 946.7,2544.1 975.7,2540.5" fill="none" stroke="#003300" stroke-width="9.0" stroke-linejoin="round" stroke-linecap="round"/>
<path d="M894.6,2557.5C925.4,2552.0 944.8,2547.9 975.7,2543.0C1010.1,2537.5 1032.0,2535.1 1066.4,2530.0C1098.2,2525.3 1118.2,2521.7 1150.0,2517.0C1152.7,2516.6 1155.2,2518.6 1157.1,2516.7C1159.8,2514.0 1158.6,2510.6 1160.0,2507.0C1161.6,2502.8 1162.4,2500.0 1164.9,2496.3C1170.0,2488.6 1173.8,2484.0 1179.8,2477.0C1187.1,2468.5 1190.9,2462.1 1200.0,2455.5C1218.8,2441.8 1232.8,2436.3 1252.5,2424.0C1272.7,2411.4 1285.4,2403.4 1305.0,2389.9C1320.3,2379.4 1329.3,2371.8 1344.4,2361.0C1350.2,2356.8 1354.7,2355.2 1360.1,2350.5C1369.9,2342.1 1375.1,2335.7 1384.2,2326.6C1395.6,2315.3 1404.0,2309.3 1414.1,2296.8C1421.2,2288.1 1422.3,2280.4 1429.0,2271.4C1439.3,2257.6 1446.6,2249.4 1458.8,2237.1C1473.7,2222.1 1484.9,2214.6 1500.0,2199.8C1511.1,2188.9 1516.0,2179.9 1527.7,2169.7C1539.6,2159.3 1548.5,2154.2 1561.9,2145.8C1584.8,2131.5 1600.0,2123.7 1623.2,2110.0C1646.0,2096.5 1660.7,2088.6 1682.9,2074.2C1697.0,2065.0 1704.5,2057.1 1718.7,2048.0C1732.7,2039.0 1742.2,2034.5 1756.8,2026.5C1772.1,2018.1 1781.9,2013.0 1797.4,2005.0C1808.2,1999.4 1815.2,1996.1 1826.1,1990.7C1831.5,1988.0 1840.4,1983.5 1840.4,1983.5C1840.4,1983.5 1816.1,1992.6 1802.2,2000.2C1787.9,2008.1 1778.2,2012.7 1766.4,2024.1C1753.3,2036.7 1752.2,2051.3 1737.8,2062.3C1706.1,2086.4 1682.7,2097.0 1647.1,2114.8C1615.8,2130.4 1592.9,2133.6 1561.9,2150.0C1547.1,2157.9 1540.3,2166.9 1527.7,2178.0C1516.8,2187.6 1508.9,2192.8 1500.0,2204.3C1488.2,2219.5 1484.3,2231.5 1473.7,2247.6C1463.0,2263.9 1455.6,2273.8 1443.9,2289.3C1433.0,2303.8 1425.4,2312.4 1414.1,2326.6C1410.1,2331.7 1406.8,2334.4 1403.5,2340.0C1397.8,2349.6 1395.3,2356.3 1390.3,2366.3C1382.8,2381.2 1378.1,2390.7 1370.6,2405.6C1365.6,2415.6 1364.2,2423.0 1357.5,2431.9C1349.1,2443.2 1342.1,2449.0 1331.3,2458.1C1317.1,2470.0 1307.8,2477.5 1291.9,2487.0C1282.7,2492.5 1276.0,2494.6 1265.6,2497.5C1250.9,2501.6 1241.3,2502.8 1226.3,2505.4C1216.4,2507.1 1209.9,2506.7 1200.0,2508.7C1180.8,2512.6 1169.2,2517.0 1150.0,2521.0C1118.4,2527.6 1098.2,2531.0 1066.4,2536.5C1032.0,2542.4 1010.2,2545.6 975.7,2551.0C944.9,2555.8 925.4,2558.8 894.6,2563.5" fill="none" stroke="#0000D5" stroke-width="6.0" stroke-linejoin="round" stroke-linecap="round"/>
<path d="M893.5,2560.5 L903.0,2558.0" fill="none" stroke="#0000D5" stroke-width="6.0" stroke-linejoin="round" stroke-linecap="round"/>
<path d="M896.0,2560.0C926.3,2555.1 945.4,2551.8 975.7,2547.0C1010.1,2541.6 1032.0,2538.7 1066.4,2533.2C1098.2,2528.1 1118.2,2524.4 1150.0,2519.0" fill="none" stroke="#0000D5" stroke-width="10.0" stroke-linejoin="round" stroke-linecap="round"/>
<path d="M1109.4,2528.5C1120.3,2527.9 1127.2,2528.1 1138.0,2527.0C1142.6,2526.5 1145.5,2525.7 1150.0,2524.5C1169.1,2519.5 1181.0,2516.0 1200.0,2510.6C1210.0,2507.7 1217.5,2508.3 1226.3,2502.8C1238.0,2495.5 1242.3,2487.0 1252.5,2477.8C1262.2,2469.0 1268.9,2464.1 1278.8,2455.5C1288.9,2446.7 1295.7,2441.5 1305.0,2431.9C1313.1,2423.5 1317.3,2417.4 1324.7,2408.3C1332.3,2398.9 1337.2,2393.1 1344.4,2383.3C1349.7,2376.1 1352.7,2371.2 1357.5,2363.6C1361.0,2358.1 1362.0,2353.8 1366.3,2349.0C1372.2,2342.4 1377.1,2339.4 1384.2,2334.1C1392.4,2328.0 1399.9,2327.0 1406.6,2319.2C1417.4,2306.7 1420.7,2296.2 1429.0,2281.9C1437.8,2266.7 1442.7,2256.8 1451.4,2241.6C1459.6,2227.3 1463.7,2217.4 1473.7,2204.3C1482.3,2193.1 1490.7,2188.6 1500.0,2178.0C1515.8,2160.0 1521.9,2145.1 1539.7,2129.1C1551.2,2118.8 1561.9,2117.2 1575.5,2110.0C1584.8,2105.0 1590.4,2101.3 1600.0,2097.0C1606.7,2094.0 1618.4,2090.9 1618.4,2090.9C1618.4,2090.9 1598.3,2094.7 1587.4,2100.5C1572.5,2108.5 1563.9,2115.2 1551.6,2126.7C1536.6,2140.7 1529.2,2151.7 1515.8,2167.3C1505.3,2179.5 1498.7,2187.2 1488.7,2199.8C1479.9,2210.9 1474.2,2217.9 1466.3,2229.7C1457.1,2243.5 1452.4,2252.8 1443.9,2267.0C1435.4,2281.1 1431.1,2290.8 1421.5,2304.2C1414.0,2314.7 1406.4,2318.9 1399.2,2329.6C1394.4,2336.8 1394.4,2342.9 1390.3,2350.5C1383.5,2362.9 1379.1,2370.7 1370.6,2382.0C1364.1,2390.7 1358.6,2395.2 1351.0,2403.0C1341.2,2413.1 1334.5,2419.1 1324.7,2429.3C1314.5,2440.0 1308.6,2447.4 1298.4,2458.1C1288.7,2468.3 1284.2,2476.9 1272.2,2484.4C1261.1,2491.3 1251.6,2490.1 1239.4,2494.9C1224.1,2501.0 1215.4,2507.1 1200.0,2513.0C1181.3,2520.2 1169.5,2524.9 1150.0,2529.5C1134.9,2533.1 1124.8,2532.6 1109.4,2534.5" fill="none" stroke="#FF0000" stroke-width="6.0" stroke-linejoin="round" stroke-linecap="round"/>
<path d="M1111.0,2531.5C1121.3,2530.7 1127.8,2530.6 1138.0,2529.5C1146.4,2528.6 1151.8,2528.1 1160.0,2526.0C1175.4,2522.2 1184.8,2518.6 1200.0,2514.0" fill="none" stroke="#FF0000" stroke-width="9.5" stroke-linejoin="round" stroke-linecap="round"/>
<path d="M1259.1,2505.4C1266.6,2497.4 1272.6,2493.4 1278.8,2484.4C1285.2,2475.2 1286.0,2467.6 1291.9,2458.1C1298.5,2447.5 1304.6,2442.2 1311.6,2431.9C1317.1,2423.8 1319.0,2417.6 1324.7,2409.6C1331.5,2400.1 1337.3,2395.2 1344.4,2385.9C1349.8,2378.8 1353.4,2374.3 1357.5,2366.3C1360.7,2360.1 1359.1,2354.5 1363.4,2349.0C1367.0,2344.4 1371.9,2344.6 1376.8,2341.5C1385.5,2336.1 1392.0,2333.8 1399.2,2326.6C1409.2,2316.6 1414.0,2308.8 1421.5,2296.8C1428.2,2286.1 1431.5,2278.7 1436.5,2267.0C1440.0,2258.8 1440.8,2253.0 1443.9,2244.6C1446.5,2237.7 1448.7,2233.5 1451.4,2226.7C1455.5,2216.5 1455.2,2208.6 1461.8,2199.8C1464.6,2196.1 1473.7,2196.8 1473.7,2196.8C1473.7,2196.8 1472.4,2201.7 1470.8,2204.3C1465.5,2213.1 1460.3,2217.5 1455.8,2226.7C1450.0,2238.6 1448.9,2247.2 1443.9,2259.5C1435.8,2279.5 1432.9,2293.4 1421.5,2311.7C1415.6,2321.2 1408.3,2324.6 1399.2,2331.1C1388.4,2338.8 1379.2,2340.3 1369.3,2349.0C1366.2,2351.8 1368.0,2355.7 1366.7,2359.7C1363.5,2369.8 1362.9,2376.8 1357.5,2385.9C1349.3,2399.6 1341.1,2406.2 1331.3,2418.8C1323.7,2428.6 1318.2,2434.4 1311.6,2445.0C1305.7,2454.5 1303.9,2461.6 1298.4,2471.3C1291.4,2483.6 1289.4,2493.6 1278.8,2502.8C1273.1,2507.7 1266.6,2504.4 1259.1,2505.4" fill="none" stroke="#000000" stroke-width="6.0" stroke-linejoin="round" stroke-linecap="round"/>
<path d="M1262.0,2506.0 L1275.0,2503.0" fill="none" stroke="#000000" stroke-width="6.0" stroke-linejoin="round" stroke-linecap="round"/>
<rect x="394.3" y="2659.4" width="1941.7" height="102.7" fill="#fff" stroke="#000" stroke-width="4.1"/>
<line x1="463.2" y1="2709.2" x2="596.6" y2="2709.2" stroke="#B43300" stroke-width="6" stroke-linecap="round"/>
<text transform="translate(612.0,2728.5) scale(1,1.04)" class="lg">1 Hz</text>
<line x1="792.5" y1="2709.2" x2="926.9" y2="2709.2" stroke="#003300" stroke-width="6" stroke-linecap="round"/>
<text transform="translate(940.1,2728.5) scale(1,1.04)" class="lg">0.75 Hz</text>
<line x1="1201.7" y1="2709.2" x2="1334.6" y2="2709.2" stroke="#0000D5" stroke-width="6" stroke-linecap="round"/>
<text transform="translate(1348.3,2728.5) scale(1,1.04)" class="lg">0.5 Hz</text>
<line x1="1579.0" y1="2709.2" x2="1710.5" y2="2709.2" stroke="#FF0000" stroke-width="6" stroke-linecap="round"/>
<text transform="translate(1724.9,2728.5) scale(1,1.04)" class="lg">0.25 Hz</text>
<line x1="1985.0" y1="2709.2" x2="2118.6" y2="2709.2" stroke="#000000" stroke-width="6" stroke-linecap="round"/>
<text transform="translate(2132.3,2728.5) scale(1,1.04)" class="lg">0.1 Hz</text>
<rect x="387.3" y="1684.0" width="1956.1" height="1118.0" fill="none" stroke="#364F6B" stroke-width="4.4"/>
<text x="322.2" y="2905.5" class="t m" textLength="25.0" lengthAdjust="spacingAndGlyphs">&#8211;</text><text x="348.8" y="2906.3" class="t">0.5</text>
<text x="517.8" y="2905.5" class="t m" textLength="25.0" lengthAdjust="spacingAndGlyphs">&#8211;</text><text x="544.4" y="2906.3" class="t">0.4</text>
<text x="713.3" y="2905.5" class="t m" textLength="25.0" lengthAdjust="spacingAndGlyphs">&#8211;</text><text x="739.9" y="2906.3" class="t">0.3</text>
<text x="908.8" y="2905.5" class="t m" textLength="25.0" lengthAdjust="spacingAndGlyphs">&#8211;</text><text x="935.4" y="2906.3" class="t">0.2</text>
<text x="1104.3" y="2905.5" class="t m" textLength="25.0" lengthAdjust="spacingAndGlyphs">&#8211;</text><text x="1130.9" y="2906.3" class="t">0.1</text>
<text x="1345.1" y="2906.3" class="t">0</text>
<text x="1512.1" y="2906.3" class="t">0.1</text>
<text x="1707.6" y="2906.3" class="t">0.2</text>
<text x="1903.1" y="2906.3" class="t">0.3</text>
<text x="2098.7" y="2906.3" class="t">0.4</text>
<text x="2294.2" y="2906.3" class="t">0.5</text>
<text x="327.2" y="1706.0" class="t" text-anchor="end">1500</text>
<text x="327.2" y="1929.4" class="t" text-anchor="end">1000</text>
<text x="327.2" y="2152.8" class="t" text-anchor="end">500</text>
<text x="327.2" y="2376.2" class="t" text-anchor="end">0</text>
<text x="327.2" y="2599.6" class="t" text-anchor="end">500</text><text x="186.5" y="2598.8" class="t m" textLength="25.0" lengthAdjust="spacingAndGlyphs">&#8211;</text>
<text x="327.2" y="2823.0" class="t" text-anchor="end">1000</text><text x="148.4" y="2822.2" class="t m" textLength="25.0" lengthAdjust="spacingAndGlyphs">&#8211;</text>
<text transform="translate(1114.5,3014.4) scale(1,1.04)" class="ti">Velocity [m/s]</text>
<text transform="translate(110.6,2243.5) rotate(-90) scale(1,1.04)" class="ti" text-anchor="middle">Force [N]</text>
<text y="3139.0" class="cap"><tspan x="1171.9">(</tspan><tspan x="1198.5" font-weight="bold">b</tspan><tspan x="1249.5">)</tspan></text>
<rect x="100" y="1600" width="260" height="69.8" fill="#fff"/>
</svg>
</body></html>
